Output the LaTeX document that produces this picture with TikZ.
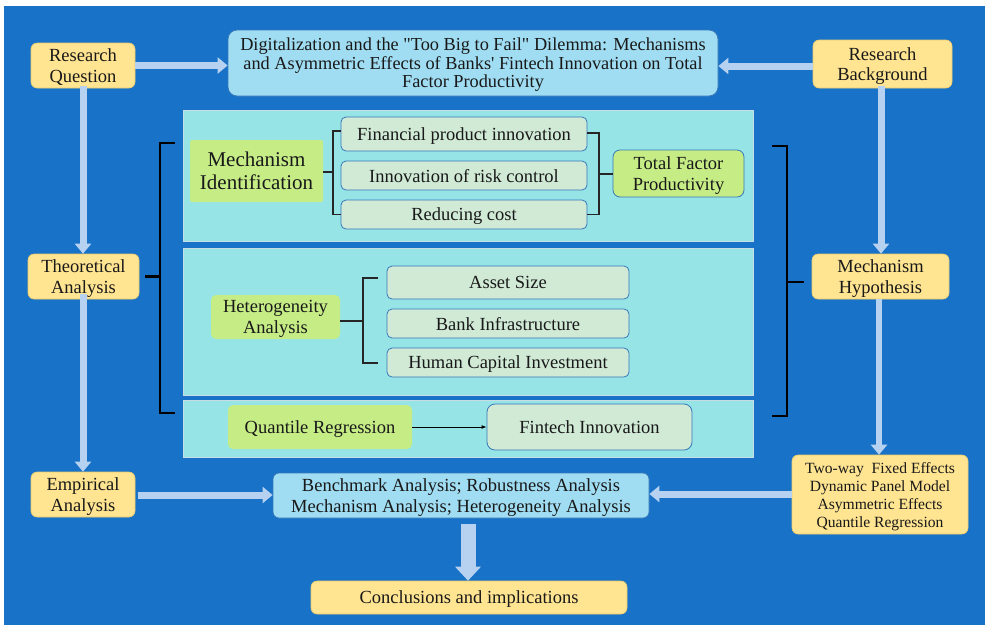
\documentclass[tikz,border=0pt]{standalone}
\usepackage{fontspec}
\setmainfont{Liberation Serif}
\usetikzlibrary{arrows.meta}
\definecolor{bgblue}{RGB}{24,114,199}
\definecolor{yel}{RGB}{255,228,145}
\definecolor{yelb}{RGB}{232,200,110}
\definecolor{ltblue}{RGB}{160,221,242}
\definecolor{boxb}{RGB}{55,120,185}
\definecolor{cyanp}{RGB}{150,228,230}
\definecolor{panelb}{RGB}{200,220,228}
\definecolor{grn}{RGB}{198,236,134}
\definecolor{pale}{RGB}{208,234,214}
\definecolor{arr}{RGB}{182,210,240}
\tikzset{
  txt/.style={font=\fontsize{18.5}{20.5}\selectfont, align=center, inner sep=0pt, text depth=0pt, text=black!90},
  ybox/.style={txt, fill=yel, draw=yelb, line width=0.6pt, rounded corners=6pt},
  tbox/.style={txt, fill=ltblue, draw=boxb, line width=0.8pt, rounded corners=9pt},
  panel/.style={fill=cyanp, draw=panelb, line width=1pt},
  gbox/.style={txt, fill=grn, rounded corners=5pt},
  sbox/.style={txt, fill=pale, draw=boxb, line width=0.8pt, rounded corners=5pt},
  fat/.style={draw=arr, line width=7pt, -{Triangle[width=16pt,length=10pt]}},
  brk/.style={draw=black, line width=2.5pt},
  sbrk/.style={draw=black!85, line width=1.3pt},
}
\begin{document}
\begin{tikzpicture}[x=1pt,y=-1pt]
\useasboundingbox (0,0) rectangle (985,625);
\fill[white] (0,0) rectangle (985,625);
\fill[bgblue] (4,6) rectangle (985,625);

% panels
\draw[panel] (183,110) rectangle (753,241);
\draw[panel] (183,248) rectangle (753,395);
\draw[panel] (183,400) rectangle (753,457);

% outer nodes
\node[ybox, minimum width=104pt, minimum height=45pt] (rq) at (83,65.5) {Research\\Question};
\node[tbox, minimum width=490pt, minimum height=66pt, font=\fontsize{18.3}{18.5}\selectfont] (title) at (473,63) {Digitalization and the \textquotedbl Too Big to Fail\textquotedbl{} Dilemma: Mechanisms\\and Asymmetric Effects of Banks\textquotesingle{} Fintech Innovation on Total\\Factor Productivity};
\node[ybox, minimum width=139pt, minimum height=48pt] (rb) at (882.5,64) {Research\\Background};
\node[ybox, minimum width=111pt, minimum height=45pt] (th) at (83.5,276.5) {Theoretical\\Analysis};
\node[ybox, minimum width=104pt, minimum height=45pt] (em) at (83,494.5) {Empirical\\Analysis};
\node[ybox, minimum width=137pt, minimum height=45pt] (mh) at (880.5,276.5) {Mechanism\\Hypothesis};
\node[ybox, minimum width=176pt, minimum height=79pt, font=\fontsize{15.6}{18}\selectfont] (tw) at (880,494.5) {Two-way\ \ Fixed Effects\\Dynamic Panel Model\\Asymmetric Effects\\Quantile Regression};
\node[tbox, rounded corners=6pt, minimum width=376pt, minimum height=45pt] (bm) at (461,495.5) {Benchmark Analysis; Robustness Analysis\\Mechanism Analysis; Heterogeneity Analysis};
\node[ybox, minimum width=316pt, minimum height=33pt] (cc) at (469,597.5) {Conclusions and implications};

% panel 1
\node[gbox, rounded corners=2pt, minimum width=133pt, minimum height=62pt, font=\fontsize{21}{23}\selectfont] (mi) at (256.5,171) {Mechanism\\Identification};
\node[sbox, minimum width=246pt, minimum height=34pt] (fpi) at (464,134) {Financial product innovation};
\node[sbox, minimum width=246pt, minimum height=29pt] (irc) at (464,175.5) {Innovation of risk control};
\node[sbox, minimum width=246pt, minimum height=29pt] (rc) at (464,214.5) {Reducing cost};
\node[gbox, draw=boxb, line width=0.8pt, rounded corners=7pt, minimum width=131pt, minimum height=47pt] (tfp) at (678.5,173.5) {Total Factor\\Productivity};

% panel 2
\node[gbox, minimum width=129pt, minimum height=44pt] (ha) at (275.5,317) {Heterogeneity\\Analysis};
\node[sbox, minimum width=242pt, minimum height=33pt] (as) at (508,282.5) {Asset Size};
\node[sbox, minimum width=242pt, minimum height=29pt] (bi) at (508,323.5) {Bank Infrastructure};
\node[sbox, minimum width=242pt, minimum height=29pt] (hci) at (508,362.5) {Human Capital Investment};

% panel 3
\node[gbox, minimum width=184pt, minimum height=44pt] (qr) at (320,427) {Quantile Regression};
\node[sbox, rounded corners=8pt, minimum width=205pt, minimum height=46pt] (fi) at (589.5,427) {Fintech Innovation};

% brackets
\coordinate (lb) at (160,0);
\coordinate (rbk) at (787,0);
\draw[brk] (175,143) -| (lb |- 0,413) -- (175,413);
\draw[brk] ([xshift=6pt]th.east) -- (lb |- th.east);
\draw[brk] (772,146) -| (rbk |- 0,416) -- (772,416);
\draw[brk] ([xshift=-8pt]mh.west |- 0,282) -- (rbk |- 0,282);

\draw[sbrk] (fpi.west |- 0,131) -- (333,131) |- (rc.west);
\draw[sbrk] (mi.east |- 0,172) -- (333,172);
\draw[sbrk] (fpi.east |- 0,133) -- (599,133) |- (rc.east);
\draw[sbrk] (599,174) -- (tfp.west |- 0,174);
\draw[sbrk] (378,278) -- (363,278) -- (363,363) -- (378,363);
\draw[sbrk] (ha.east |- 0,321) -- (363,321);

\draw[black, line width=0.9pt, -{Latex[length=5pt,width=4pt]}] (qr.east) -- (fi.west);

% fat arrows
\draw[fat] (rq.east) -- (rq.east -| title.west);
\draw[fat] (rb.west |- 0,66) -- (title.east |- 0,66);
\draw[fat] ([yshift=2pt]rq.south) -- (th.north -| rq.south);
\draw[fat] ([yshift=5pt]th.south -| rq.south) -- (em.north);
\draw[fat] ([yshift=2pt]rb.south -| 881,0) -- (mh.north -| 881,0);
\draw[fat, line width=6pt] (mh.south -| 879,0) -- (tw.north -| 879,0);
\draw[fat] (tw.west |- 0,494) -- (bm.east |- 0,494);
\draw[fat] ([xshift=3pt]em.east |- 0,495) -- (bm.west |- 0,495);
\draw[draw=arr, line width=15pt, -{Triangle[width=25pt,length=14pt]}] (468,524) -- (cc.north -| 468,0);
\end{tikzpicture}
\end{document}
